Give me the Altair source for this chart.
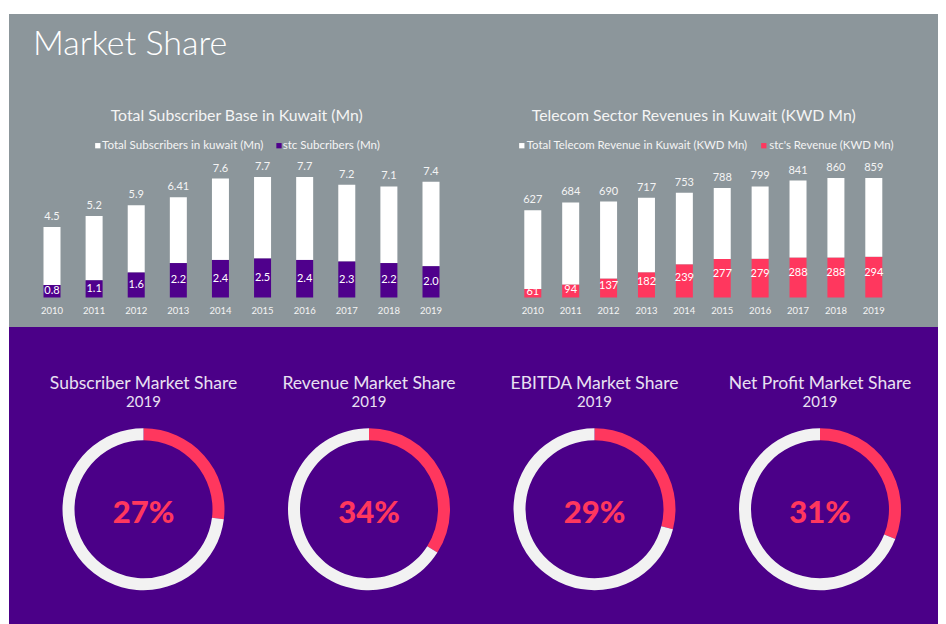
import altair as alt
import pandas as pd

# ---------------- data ----------------
years = ["2010", "2011", "2012", "2013", "2014", "2015", "2016", "2017", "2018", "2019"]
total_subscribers = [4.5, 5.2, 5.9, 6.41, 7.6, 7.7, 7.7, 7.2, 7.1, 7.4]
stc_subscribers = [0.8, 1.1, 1.6, 2.2, 2.4, 2.5, 2.4, 2.3, 2.2, 2.0]
total_revenue = [627, 684, 690, 717, 753, 788, 799, 841, 860, 859]
stc_revenue = [61, 94, 137, 182, 239, 277, 279, 288, 288, 294]

share_names = ["Subscriber Market Share", "Revenue Market Share",
               "EBITDA Market Share", "Net Profit Market Share"]
share_values = [27, 34, 29, 31]
share_year = "2019"

# ---------------- style ----------------
GRAY = "#8c969b"
PURPLE = "#4b0088"
BAR_PURPLE = "#4f008c"
RED = "#ff375e"
RING = "#f2f2f2"
TXT = "#f4f4f4"
LAV = "#e9e0f2"
FONT = "Lato"

W, H = 929, 610

subs = pd.DataFrame({
    "year": years,
    "total": total_subscribers,
    "stc": stc_subscribers,
    "total_label": [str(v) for v in total_subscribers],
    "stc_label": [str(v) for v in stc_subscribers],
})
rev = pd.DataFrame({
    "year": years,
    "total": total_revenue,
    "stc": stc_revenue,
    "total_label": [str(v) for v in total_revenue],
    "stc_label": [str(v) for v in stc_revenue],
})

rows = []
for n, s in zip(share_names, share_values):
    rows.append({"name": n, "part": "stc", "start": 0, "end": s})
    rows.append({"name": n, "part": "other", "start": s, "end": 100})
donut = pd.DataFrame(rows)
donut_lbl = pd.DataFrame({"name": share_names,
                          "pct": [f"{v}%" for v in share_values],
                          "yr": [share_year] * len(share_names)})

one = pd.DataFrame({"k": [0]})

# ---------------- backgrounds ----------------
bg_gray = alt.Chart(one).mark_rect(color=GRAY).encode(
    x=alt.value(0), x2=alt.value(W), y=alt.value(0), y2=alt.value(313))
bg_purple = alt.Chart(one).mark_rect(color=PURPLE).encode(
    x=alt.value(0), x2=alt.value(W), y=alt.value(313), y2=alt.value(H + 20))

def txt(text, x, y, size, color=TXT, align="center", weight="normal", baseline="middle"):
    return alt.Chart(one).mark_text(
        text=text, font=FONT, fontSize=size, color=color, align=align,
        fontWeight=weight, baseline=baseline
    ).encode(x=alt.value(x), y=alt.value(y))

def sq(x, y, color):
    return alt.Chart(one).mark_square(size=28, color=color, opacity=1).encode(
        x=alt.value(x), y=alt.value(y))

main_title = txt("Market Share", 24, 41, 34, color="#ffffff", align="left",
                 weight=300, baseline="alphabetic")

# ---------------- bar chart helper ----------------
def bar_chart(df, xrange, ydomain, yrange, stc_color, label_frac, label_under_total):
    xs = alt.X("year:N", scale=alt.Scale(type="point", domain=years, range=xrange, padding=0),
               axis=None)
    ys = alt.Scale(domain=ydomain, range=yrange)
    base = alt.Chart(df)
    white = base.mark_bar(width=17, color="#ffffff").encode(
        x=xs, y=alt.Y("stc:Q", scale=ys, axis=None), y2="total:Q")
    stc = base.mark_bar(width=17, color=stc_color).encode(
        x=xs, y=alt.Y("stc:Q", scale=ys, axis=None))
    stc_lbl = base.transform_calculate(pos=f"datum.stc*{label_frac}").mark_text(
        font=FONT, fontSize=11, color="#ffffff", baseline="middle").encode(
        x=xs, y=alt.Y("pos:Q", scale=ys, axis=None), text="stc_label:N")
    tot_lbl = base.mark_text(font=FONT, fontSize=11, color=TXT, baseline="bottom", dy=-5).encode(
        x=xs, y=alt.Y("total:Q", scale=ys, axis=None), text="total_label:N")
    yr_lbl = base.mark_text(font=FONT, fontSize=9.5, color=TXT, baseline="middle").encode(
        x=xs, y=alt.value(297), text="year:N")
    if label_under_total:
        return [stc, stc_lbl, white, tot_lbl, yr_lbl]
    return [white, stc, stc_lbl, tot_lbl, yr_lbl]

left = bar_chart(subs, [43, 422], [0, 10], [283.5, 127], BAR_PURPLE, 0.5, False)
right = bar_chart(rev, [523.8, 864.8], [0, 1000], [283.5, 144.5], RED, 0.6, True)

# ---------------- donuts ----------------
dx = alt.X("name:N", scale=alt.Scale(type="point", domain=share_names, range=[134.5, 811], padding=0),
           axis=None)
rings = alt.Chart(donut).mark_arc(radius=81, radius2=69).encode(
    x=dx, y=alt.value(495.2),
    theta=alt.Theta("start:Q", scale=alt.Scale(domain=[0, 100]), stack=False),
    theta2="end:Q",
    color=alt.Color("part:N", scale=alt.Scale(domain=["stc", "other"], range=[RED, RING]), legend=None),
)
pct = alt.Chart(donut_lbl).mark_text(font=FONT, fontSize=31, fontWeight=900, color=RED,
                                     baseline="middle").encode(
    x=dx, y=alt.value(500), text="pct:N")
dtitle = alt.Chart(donut_lbl).mark_text(font=FONT, fontSize=17.5, color=LAV, baseline="middle").encode(
    x=dx, y=alt.value(369.5), text="name:N")
dyear = alt.Chart(donut_lbl).mark_text(font=FONT, fontSize=15, color=LAV, baseline="middle").encode(
    x=dx, y=alt.value(387.5), text="yr:N")

# ---------------- titles & legends ----------------
texts = [
    main_title,
    txt("Total Subscriber Base in Kuwait (Mn)", 227.7, 102, 15.8),
    txt("Telecom Sector Revenues in Kuwait (KWD Mn)", 684.7, 102, 15.8),
    sq(88.8, 131.7, "#ffffff"),
    txt("Total Subscribers in kuwait (Mn)", 93, 131.7, 11.6, align="left"),
    sq(270, 131.7, BAR_PURPLE),
    txt("stc Subcribers (Mn)", 273.7, 131.7, 11.6, align="left"),
    sq(512.8, 131.7, "#ffffff"),
    txt("Total Telecom Revenue in Kuwait (KWD Mn)", 517.7, 131.7, 11.4, align="left"),
    sq(754.8, 131.7, RED),
    txt("stc's Revenue (KWD Mn)", 760.3, 131.7, 11.4, align="left"),
]

chart = alt.layer(
    bg_gray, bg_purple, *left, *right, rings, pct, dtitle, dyear, *texts
).resolve_scale(
    x="independent", y="independent", theta="independent", color="independent"
).properties(
    width=W, height=H,
    background="#ffffff",
    padding={"left": 1, "top": 6, "right": 0, "bottom": 0},
    autosize=alt.AutoSizeParams(type="none"),
).configure_view(stroke=None)

chart.save("out.html", embed_options={"renderer": "svg", "actions": False})
